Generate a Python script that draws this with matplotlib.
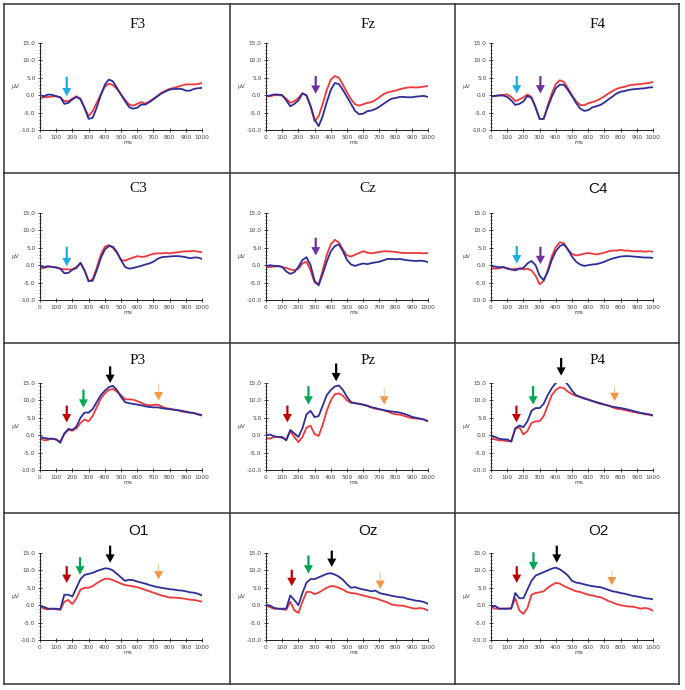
import numpy as np
import matplotlib
matplotlib.use("Agg")
import matplotlib.pyplot as plt
from matplotlib.lines import Line2D
from matplotlib.ticker import MultipleLocator, FormatStrFormatter

# ---------------- data ----------------
t = list(range(0, 1001, 25))  # ms

channels = ["F3", "Fz", "F4", "C3", "Cz", "C4", "P3", "Pz", "P4", "O1", "Oz", "O2"]

blue = {
 "F3": [0.0,-0.3,0.2,0.1,-0.3,-0.6,-2.5,-2.2,-1.2,-0.5,-1.2,-3.7,-6.8,-6.5,-3.6,0.0,3.0,4.5,4.0,2.1,0.2,-1.7,-3.4,-3.9,-3.6,-2.7,-2.7,-2.0,-1.2,-0.3,0.5,1.1,1.6,1.8,1.8,1.8,1.3,1.3,1.8,2.0,2.1],
 "Fz": [-0.2,-0.1,0.2,0.2,0.0,-1.5,-3.2,-2.5,-1.5,0.5,0.0,-3.0,-7.0,-8.9,-6.0,-2.0,1.5,3.5,3.2,1.5,-0.5,-2.5,-4.5,-5.5,-5.3,-4.6,-4.4,-4.0,-3.3,-2.5,-1.7,-1.0,-0.8,-0.5,-0.5,-0.6,-0.6,-0.4,-0.3,-0.2,-0.5],
 "F4": [-0.4,-0.2,-0.1,-0.1,-0.5,-1.5,-2.8,-2.5,-1.8,-0.2,-0.8,-3.5,-6.8,-6.8,-3.5,-0.5,2.0,3.0,3.0,1.5,-0.3,-2.2,-3.8,-4.5,-4.3,-3.5,-3.2,-2.8,-2.1,-1.2,-0.4,0.5,1.0,1.2,1.5,1.7,1.8,1.9,2.0,2.2,2.3],
 "C3": [-0.2,-0.5,-0.3,-0.5,-0.7,-1.0,-2.3,-2.2,-1.3,-0.8,0.7,-1.5,-4.5,-4.5,-1.5,2.0,4.5,5.5,5.3,3.8,1.5,-0.5,-1.0,-0.8,-0.5,-0.2,0.2,0.5,1.0,1.8,2.3,2.4,2.5,2.6,2.6,2.5,2.3,2.0,2.2,2.2,1.8],
 "Cz": [-0.3,0.0,-0.2,-0.2,-0.5,-1.8,-2.5,-2.0,-0.5,1.5,2.3,0.0,-4.5,-5.8,-2.5,1.0,4.0,5.5,6.0,4.0,1.5,0.2,-0.2,0.2,0.5,0.3,0.6,0.8,1.0,1.4,1.8,1.8,1.7,1.8,1.6,1.4,1.3,1.2,1.3,1.2,0.9],
 "C4": [-0.2,-0.4,-0.6,-0.5,-1.0,-1.2,-1.5,-1.0,-0.8,0.5,1.2,0.0,-3.0,-4.3,-2.0,1.5,4.0,5.5,6.0,4.5,2.5,1.0,0.2,-0.2,0.0,0.2,0.3,0.6,1.0,1.5,1.9,2.2,2.5,2.6,2.6,2.5,2.4,2.3,2.2,2.2,2.1],
 "P3": [-0.5,-0.8,-1.0,-1.0,-1.2,-2.2,0.5,1.8,1.5,2.5,5.0,6.5,6.5,7.5,9.5,11.5,12.8,13.8,14.2,13.0,11.0,9.5,9.2,9.0,8.8,8.6,8.3,8.1,8.0,8.0,7.8,7.6,7.5,7.3,7.2,7.0,6.8,6.5,6.4,6.0,5.8],
 "Pz": [0.0,0.2,-0.3,-0.5,-0.5,-1.5,1.5,0.5,-0.5,2.0,6.0,7.0,5.2,5.5,8.5,11.5,13.0,14.0,14.3,13.0,11.0,9.5,9.2,9.0,8.8,8.5,8.0,7.8,7.5,7.2,7.0,6.8,6.7,6.5,6.2,5.8,5.3,5.0,4.8,4.5,4.0],
 "P4": [-0.3,-0.5,-1.0,-1.2,-1.2,-1.8,2.0,2.8,2.3,4.0,7.0,7.8,7.8,9.0,11.5,13.5,15.0,15.8,15.8,14.5,12.8,11.5,11.0,10.5,10.2,9.8,9.5,9.2,8.8,8.5,8.2,8.0,7.8,7.6,7.3,7.0,6.7,6.4,6.2,6.0,5.7],
 "O1": [-0.3,-0.5,-1.0,-1.0,-1.0,-1.2,3.0,3.0,2.5,5.0,7.5,8.7,9.0,9.3,9.8,10.2,10.6,10.5,10.0,9.0,8.0,7.0,7.3,7.2,6.8,6.5,6.2,5.8,5.5,5.2,5.0,4.8,4.6,4.5,4.3,4.2,4.0,3.7,3.6,3.3,2.8],
 "Oz": [0.1,-0.1,-0.8,-1.0,-1.0,-1.0,2.8,1.5,0.0,3.5,6.5,7.5,7.5,8.0,8.5,9.0,9.2,8.8,8.2,7.3,6.0,5.0,5.2,4.8,4.5,4.3,4.0,4.2,3.5,3.2,3.0,2.7,2.5,2.3,2.2,1.8,1.6,1.3,1.2,0.9,0.4],
 "O2": [-0.5,-0.2,-1.0,-1.0,-1.0,-1.0,3.5,2.0,2.0,4.5,7.0,8.5,9.0,9.5,10.0,10.5,10.8,10.3,9.5,8.5,7.0,6.5,6.3,6.0,5.7,5.5,5.3,5.2,4.8,4.4,4.0,3.8,3.5,3.3,3.0,2.7,2.5,2.3,2.0,1.9,1.7],
}

red = {
 "F3": [-0.8,-0.6,-0.5,-0.4,-0.3,-0.6,-1.7,-1.7,-1.0,-0.3,-1.0,-3.6,-6.0,-4.6,-2.2,0.2,2.4,3.3,2.9,1.8,0.2,-1.3,-2.7,-3.0,-2.5,-2.0,-2.4,-1.8,-1.0,-0.2,0.7,1.3,1.8,2.1,2.4,2.8,3.1,3.1,3.1,3.2,3.5],
 "Fz": [-0.4,-0.3,0.0,0.0,-0.1,-1.0,-2.2,-1.7,-0.8,0.6,-0.2,-3.3,-7.5,-6.0,-2.5,1.5,4.5,5.5,5.0,3.0,0.8,-1.2,-2.6,-3.0,-2.6,-2.2,-2.0,-1.4,-0.6,0.3,0.8,1.1,1.3,1.7,2.0,2.2,2.3,2.2,2.3,2.5,2.6],
 "F4": [-0.4,-0.2,0.0,0.1,0.2,-0.5,-1.7,-1.2,-0.6,0.2,-0.5,-3.4,-6.8,-6.8,-3.0,0.5,3.2,4.3,3.8,2.0,0.0,-1.7,-2.8,-2.9,-2.3,-2.0,-1.6,-1.0,-0.3,0.5,1.2,1.8,2.2,2.4,2.8,3.0,3.1,3.2,3.4,3.5,3.8],
 "C3": [-0.8,-0.8,-0.4,-0.5,-0.6,-1.0,-1.2,-1.2,-1.2,-0.5,0.6,-1.5,-4.7,-4.0,-0.8,3.0,5.3,5.8,5.0,3.5,1.5,1.3,1.8,2.2,2.6,2.4,2.5,2.9,3.3,3.4,3.4,3.5,3.4,3.6,3.7,3.9,4.0,4.0,4.1,3.9,3.7],
 "Cz": [-0.6,-0.5,-0.4,-0.3,-0.5,-0.8,-1.2,-1.5,-1.0,0.5,1.0,-1.5,-5.0,-5.5,-1.5,3.0,6.0,7.3,6.5,4.5,2.8,2.5,3.0,3.5,4.0,3.6,3.4,3.6,3.8,4.0,4.0,3.9,3.8,3.6,3.5,3.5,3.5,3.5,3.5,3.4,3.5],
 "C4": [-0.8,-1.0,-0.9,-0.6,-0.8,-1.3,-1.0,-1.0,-1.2,-1.0,-1.5,-3.0,-5.5,-4.5,-1.5,2.5,5.2,6.6,6.3,4.5,3.2,2.8,3.0,3.3,3.5,3.3,3.1,3.3,3.6,4.0,4.2,4.2,4.4,4.2,4.2,4.0,4.0,4.0,3.9,4.0,3.9],
 "P3": [-0.8,-1.5,-1.3,-1.0,-1.3,-1.8,0.3,1.5,1.3,2.0,3.5,4.5,4.0,5.5,8.0,10.5,12.0,13.0,13.3,12.5,11.5,10.3,10.3,10.2,9.8,9.3,8.8,8.6,8.7,8.8,8.3,7.8,7.6,7.4,7.2,6.8,6.6,6.5,6.3,6.0,5.6],
 "Pz": [-0.8,-1.0,-0.5,-0.5,-0.8,-1.2,1.2,-0.5,-2.0,-0.5,2.2,2.7,0.3,-0.2,3.0,7.0,10.0,11.8,12.0,11.3,10.0,9.3,9.2,9.0,8.7,8.4,8.0,7.6,7.4,7.2,6.8,6.3,6.0,5.9,5.6,5.2,4.9,4.8,4.7,4.5,4.0],
 "P4": [-1.0,-1.2,-1.5,-1.5,-1.7,-1.8,1.8,2.3,0.2,1.2,3.5,4.0,4.0,5.5,8.5,11.5,13.0,13.8,13.5,12.5,11.8,11.3,11.0,10.7,10.3,9.9,9.4,9.0,8.8,8.5,8.0,7.6,7.5,7.2,7.0,6.7,6.5,6.3,6.0,5.9,5.6],
 "O1": [-0.4,-1.0,-1.2,-1.0,-1.2,-1.3,1.0,1.5,0.3,2.0,4.5,5.0,5.0,5.5,6.3,7.0,7.6,7.6,7.2,6.7,6.2,5.8,5.6,5.4,5.2,4.8,4.4,4.0,3.6,3.2,2.8,2.5,2.2,2.2,2.1,2.0,1.8,1.6,1.5,1.3,1.0],
 "Oz": [-0.1,-0.6,-1.0,-1.0,-1.2,-1.3,1.0,-1.5,-2.2,1.0,3.8,3.8,3.2,3.6,4.3,5.0,5.5,5.4,5.0,4.5,3.8,3.5,3.4,3.1,2.8,2.5,2.2,2.0,1.6,1.2,0.8,0.2,0.0,-0.1,-0.2,-0.5,-0.8,-1.0,-0.8,-1.0,-1.5],
 "O2": [-0.5,-1.0,-1.0,-1.0,-1.0,-0.8,2.0,-1.5,-2.5,-0.8,3.0,3.5,3.7,4.0,5.0,5.8,6.4,6.2,5.5,5.0,4.5,4.0,3.8,3.4,3.0,2.8,2.5,2.3,1.8,1.2,0.8,0.3,0.0,-0.2,-0.4,-0.4,-0.7,-1.0,-0.8,-1.0,-1.6],
}

# arrows: (time ms, tip µV, top µV, kind)
arrows = {
 "F3": [(165, -0.3, 5.3, "cyan")],
 "Fz": [(307, 0.4, 5.5, "purple")],
 "F4": [(159, 0.5, 5.5, "cyan"), (305, 0.5, 5.5, "purple")],
 "C3": [(165, -0.3, 5.3, "cyan")],
 "Cz": [(307, 2.8, 7.9, "purple")],
 "C4": [(159, 0.5, 5.5, "cyan"), (305, 0.3, 5.3, "purple")],
 "P3": [(165, 3.7, 8.5, "red"), (268, 7.9, 13.1, "green"), (433, 15.0, 19.8, "black"), (732, 10.0, 15.5, "orange")],
 "Pz": [(132, 3.7, 8.5, "red"), (262, 8.8, 14.1, "green"), (433, 15.5, 20.6, "black"), (730, 8.8, 14.1, "orange")],
 "P4": [(157, 3.7, 8.5, "red"), (260, 8.8, 14.1, "green"), (433, 17.1, 22.2, "black"), (763, 9.8, 14.8, "orange")],
 "O1": [(165, 6.4, 11.2, "red"), (247, 8.8, 13.8, "green"), (433, 12.2, 17.1, "black"), (732, 7.4, 12.6, "orange")],
 "Oz": [(159, 5.5, 10.2, "red"), (262, 9.1, 14.3, "green"), (406, 11.0, 15.7, "black"), (705, 4.7, 10.2, "orange")],
 "O2": [(159, 6.4, 11.2, "red"), (262, 10.0, 15.2, "green"), (406, 12.2, 17.1, "black"), (746, 5.7, 10.7, "orange")],
}

yticks = [-10, -5, 0, 5, 10, 15]
xticks = list(range(0, 1001, 100))

# ---------------- style ----------------
arrow_colors = {"cyan": "#1AAEE5", "purple": "#7030A0", "red": "#C00000",
                "green": "#00A651", "black": "#000000", "orange": "#F79646"}
BLUE = "#2E2E9A"
RED = "#F0383A"

W, H = 685, 690
fig = plt.figure(figsize=(W / 100, H / 100), dpi=100)
fig.patch.set_facecolor("white")

col_left = [40, 266, 491]
row_top = [43, 213, 383, 553]
ax_w, ax_h = 162, 87
title_x = [138, 368, 598]
title_y = [25, 189, 360, 531]
sans_titles = {"C4", "O1", "Oz", "O2"}

ARROW = "simple,head_length=0.6,head_width=0.65,tail_width=0.16"

for i, ch in enumerate(channels):
    r, c = divmod(i, 3)
    l = col_left[c] / W
    b = 1 - (row_top[r] + ax_h) / H
    ax = fig.add_axes([l, b, ax_w / W, ax_h / H])
    ax.plot(t, blue[ch], color=BLUE, lw=1.3, zorder=3)
    ax.plot(t, red[ch], color=RED, lw=1.3, zorder=2)
    ax.set_xlim(0, 1000)
    ax.set_ylim(-10, 15)
    ax.set_xticks(xticks)
    ax.set_yticks(yticks)
    ax.yaxis.set_major_formatter(FormatStrFormatter("%.1f"))
    ax.yaxis.set_minor_locator(MultipleLocator(1))
    ax.tick_params(axis="both", which="major", labelsize=4.2, labelcolor="#444444",
                   direction="inout", length=3.5, width=0.6, color="#222222", pad=1.5)
    ax.tick_params(axis="y", which="minor", direction="inout", length=2, width=0.5, color="#222222")
    for s in ("top", "right"):
        ax.spines[s].set_visible(False)
    for s in ("left", "bottom"):
        ax.spines[s].set_linewidth(0.7)
        ax.spines[s].set_color("#222222")
    ax.patch.set_alpha(0)
    ax.text(-0.155, 0.5, "µV", transform=ax.transAxes, fontsize=4.2, color="#444444",
            ha="center", va="center")
    ax.text(0.54, -0.14, "ms", transform=ax.transAxes, fontsize=4.2, color="#444444",
            ha="center", va="center")
    fam = ["Liberation Sans"] if ch in sans_titles else ["Liberation Serif"]
    fig.text(title_x[c] / W, 1 - title_y[r] / H, ch, fontsize=11, family=fam,
             ha="center", va="center", color="#111111")
    for (xa, tip, top, kind) in arrows[ch]:
        col = arrow_colors[kind]
        if kind == "orange":
            ax.annotate("", xy=(xa, tip + 1.8), xytext=(xa, top),
                        arrowprops=dict(arrowstyle="-", color="#F9C9A0", lw=0.8),
                        annotation_clip=False, zorder=5)
            ax.annotate("", xy=(xa, tip), xytext=(xa, tip + 2.1),
                        arrowprops=dict(arrowstyle="simple,head_length=0.6,head_width=0.65,tail_width=0.01",
                                        color=col, lw=0, shrinkA=0, shrinkB=0),
                        annotation_clip=False, zorder=5)
        else:
            ax.annotate("", xy=(xa, tip), xytext=(xa, top),
                        arrowprops=dict(arrowstyle=ARROW, color=col, lw=0, shrinkA=0, shrinkB=0),
                        annotation_clip=False, zorder=5)

# table borders
xs = [4, 230, 455, 679]
ys = [4, 173, 343, 513, 684]
for x in xs:
    fig.add_artist(Line2D([x / W, x / W], [1 - ys[0] / H, 1 - ys[-1] / H],
                          color="#333333", lw=1.1, transform=fig.transFigure))
for y in ys:
    fig.add_artist(Line2D([xs[0] / W, xs[-1] / W], [1 - y / H, 1 - y / H],
                          color="#333333", lw=1.1, transform=fig.transFigure))

fig.savefig("out.png", dpi=100, facecolor="white")
